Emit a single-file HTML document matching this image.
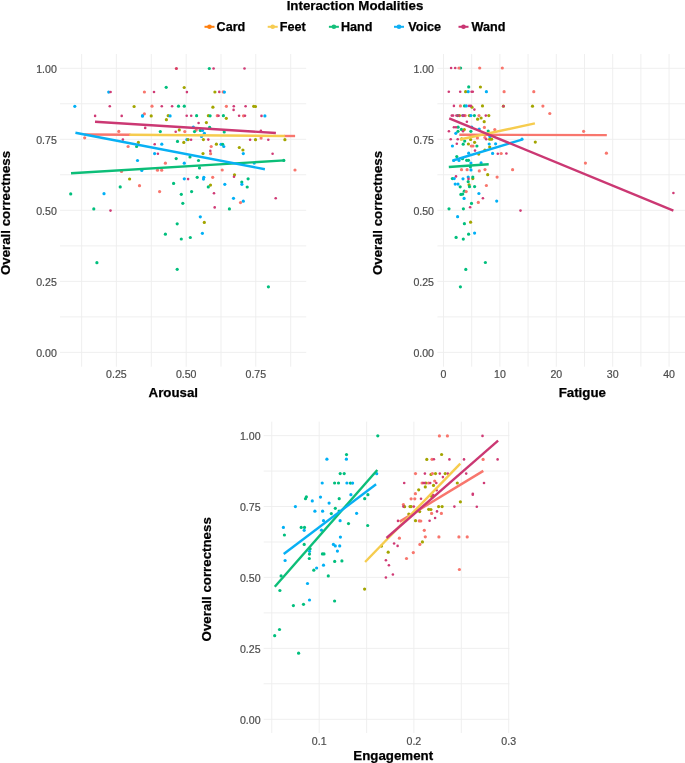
<!DOCTYPE html>
<html lang="en"><head><meta charset="utf-8"><title>Interaction Modalities</title>
<style>html,body{margin:0;padding:0;background:#fff}body{width:685px;height:763px;overflow:hidden}svg{display:block}</style>
</head><body>
<svg width="685" height="763" viewBox="0 0 685 763" font-family="'Liberation Sans', Arial, Helvetica, sans-serif">
<rect width="685" height="763" fill="#fff"/>
<text x="355" y="9.6" font-size="13.3" font-weight="bold" text-anchor="middle" fill="#000" stroke="#000" stroke-width="0.25">Interaction Modalities</text>
<line x1="204.5" x2="214.5" y1="26.8" y2="26.8" stroke="#FF7F0E" stroke-width="2.0"/>
<circle cx="209.5" cy="26.8" r="2.3" fill="#FF7F0E"/>
<text x="216.6" y="31.2" font-size="12.6" font-weight="bold" fill="#000" stroke="#000" stroke-width="0.25">Card</text>
<line x1="267.7" x2="277.7" y1="26.8" y2="26.8" stroke="#F6CC52" stroke-width="2.0"/>
<circle cx="272.7" cy="26.8" r="2.3" fill="#F6CC52"/>
<text x="279.7" y="31.2" font-size="12.6" font-weight="bold" fill="#000" stroke="#000" stroke-width="0.25">Feet</text>
<line x1="328.9" x2="338.9" y1="26.8" y2="26.8" stroke="#14BF7A" stroke-width="2.0"/>
<circle cx="333.9" cy="26.8" r="2.3" fill="#14BF7A"/>
<text x="340.9" y="31.2" font-size="12.6" font-weight="bold" fill="#000" stroke="#000" stroke-width="0.25">Hand</text>
<line x1="394" x2="404" y1="26.8" y2="26.8" stroke="#10B0F4" stroke-width="2.0"/>
<circle cx="399" cy="26.8" r="2.3" fill="#10B0F4"/>
<text x="408.3" y="31.2" font-size="12.6" font-weight="bold" fill="#000" stroke="#000" stroke-width="0.25">Voice</text>
<line x1="458.5" x2="468.5" y1="26.8" y2="26.8" stroke="#C93572" stroke-width="2.0"/>
<circle cx="463.5" cy="26.8" r="2.3" fill="#C93572"/>
<text x="471.6" y="31.2" font-size="12.6" font-weight="bold" fill="#000" stroke="#000" stroke-width="0.25">Wand</text>
<line x1="60.0" x2="306.2" y1="103.8" y2="103.8" stroke="#ededed" stroke-width="0.9"/>
<line x1="60.0" x2="306.2" y1="174.8" y2="174.8" stroke="#ededed" stroke-width="0.9"/>
<line x1="60.0" x2="306.2" y1="245.9" y2="245.9" stroke="#ededed" stroke-width="0.9"/>
<line x1="60.0" x2="306.2" y1="316.9" y2="316.9" stroke="#ededed" stroke-width="0.9"/>
<line y1="54.0" y2="366.7" x1="81.6" x2="81.6" stroke="#ededed" stroke-width="0.9"/>
<line y1="54.0" y2="366.7" x1="151.3" x2="151.3" stroke="#ededed" stroke-width="0.9"/>
<line y1="54.0" y2="366.7" x1="221.0" x2="221.0" stroke="#ededed" stroke-width="0.9"/>
<line y1="54.0" y2="366.7" x1="290.7" x2="290.7" stroke="#ededed" stroke-width="0.9"/>
<line x1="60.0" x2="306.2" y1="68.3" y2="68.3" stroke="#ededed" stroke-width="0.9"/>
<line x1="60.0" x2="306.2" y1="139.3" y2="139.3" stroke="#ededed" stroke-width="0.9"/>
<line x1="60.0" x2="306.2" y1="210.3" y2="210.3" stroke="#ededed" stroke-width="0.9"/>
<line x1="60.0" x2="306.2" y1="281.4" y2="281.4" stroke="#ededed" stroke-width="0.9"/>
<line x1="60.0" x2="306.2" y1="352.4" y2="352.4" stroke="#ededed" stroke-width="0.9"/>
<line y1="54.0" y2="366.7" x1="116.4" x2="116.4" stroke="#ededed" stroke-width="0.9"/>
<line y1="54.0" y2="366.7" x1="186.2" x2="186.2" stroke="#ededed" stroke-width="0.9"/>
<line y1="54.0" y2="366.7" x1="255.8" x2="255.8" stroke="#ededed" stroke-width="0.9"/>
<text x="56.8" y="72.5" font-size="10.6" text-anchor="end" fill="#4d4d4d" stroke="#4d4d4d" stroke-width="0.2">1.00</text>
<text x="56.8" y="143.5" font-size="10.6" text-anchor="end" fill="#4d4d4d" stroke="#4d4d4d" stroke-width="0.2">0.75</text>
<text x="56.8" y="214.5" font-size="10.6" text-anchor="end" fill="#4d4d4d" stroke="#4d4d4d" stroke-width="0.2">0.50</text>
<text x="56.8" y="285.6" font-size="10.6" text-anchor="end" fill="#4d4d4d" stroke="#4d4d4d" stroke-width="0.2">0.25</text>
<text x="56.8" y="356.6" font-size="10.6" text-anchor="end" fill="#4d4d4d" stroke="#4d4d4d" stroke-width="0.2">0.00</text>
<text x="116.4" y="377.9" font-size="10.6" text-anchor="middle" fill="#4d4d4d" stroke="#4d4d4d" stroke-width="0.2">0.25</text>
<text x="186.2" y="377.9" font-size="10.6" text-anchor="middle" fill="#4d4d4d" stroke="#4d4d4d" stroke-width="0.2">0.50</text>
<text x="255.8" y="377.9" font-size="10.6" text-anchor="middle" fill="#4d4d4d" stroke="#4d4d4d" stroke-width="0.2">0.75</text>
<text transform="translate(10.0,213.0) rotate(-90)" font-size="13.3" font-weight="bold" text-anchor="middle" fill="#000" stroke="#000" stroke-width="0.25">Overall correctness</text>
<text x="173.3" y="397" font-size="13.3" font-weight="bold" text-anchor="middle" fill="#000" stroke="#000" stroke-width="0.25">Arousal</text>
<circle cx="74.8" cy="106.3" r="1.6" fill="#00B0F6"/>
<circle cx="108.7" cy="92.1" r="1.6" fill="#00B0F6"/>
<circle cx="134.1" cy="106.5" r="1.6" fill="#A3A500"/>
<circle cx="142.5" cy="115.9" r="1.6" fill="#00B0F6"/>
<circle cx="118.8" cy="131.4" r="1.6" fill="#F8766D"/>
<circle cx="84.7" cy="137.8" r="1.6" fill="#F8766D"/>
<circle cx="138.4" cy="142.4" r="1.6" fill="#A3A500"/>
<circle cx="128.1" cy="146.5" r="1.6" fill="#F8766D"/>
<circle cx="136.6" cy="146.5" r="1.6" fill="#00BF7D"/>
<circle cx="176.4" cy="68.5" r="1.6" fill="#DA3C62"/>
<circle cx="209.3" cy="68.5" r="1.6" fill="#00BF7D"/>
<circle cx="166.2" cy="87.3" r="1.6" fill="#00BF7D"/>
<circle cx="184.2" cy="87.5" r="1.6" fill="#A3A500"/>
<circle cx="144.4" cy="92.0" r="1.6" fill="#F8766D"/>
<circle cx="214.9" cy="92.0" r="1.6" fill="#A3A500"/>
<circle cx="152.0" cy="106.2" r="1.6" fill="#F8766D"/>
<circle cx="178.5" cy="106.2" r="1.6" fill="#00BF7D"/>
<circle cx="184.3" cy="106.2" r="1.6" fill="#00BF7D"/>
<circle cx="212.9" cy="107.2" r="1.6" fill="#A3A500"/>
<circle cx="144.4" cy="113.8" r="1.6" fill="#F8766D"/>
<circle cx="142.5" cy="115.9" r="1.6" fill="#00B0F6"/>
<circle cx="151.2" cy="115.9" r="1.6" fill="#A3A500"/>
<circle cx="168.2" cy="115.7" r="1.6" fill="#A3A500"/>
<circle cx="170.1" cy="115.9" r="1.6" fill="#00B0F6"/>
<circle cx="196.6" cy="115.7" r="1.6" fill="#00BF7D"/>
<circle cx="208.4" cy="115.7" r="1.6" fill="#A3A500"/>
<circle cx="210.1" cy="115.8" r="1.6" fill="#00BF7D"/>
<circle cx="217.3" cy="115.7" r="1.6" fill="#F8766D"/>
<circle cx="166.4" cy="119.7" r="1.6" fill="#A3A500"/>
<circle cx="206.4" cy="122.6" r="1.6" fill="#A3A500"/>
<circle cx="209.6" cy="127.3" r="1.6" fill="#00BF7D"/>
<circle cx="193.3" cy="127.0" r="1.6" fill="#00B0F6"/>
<circle cx="160.3" cy="131.6" r="1.6" fill="#00BF7D"/>
<circle cx="179.3" cy="129.9" r="1.6" fill="#A3A500"/>
<circle cx="184.8" cy="131.6" r="1.6" fill="#F8766D"/>
<circle cx="196.2" cy="130.1" r="1.6" fill="#F8766D"/>
<circle cx="194.5" cy="131.6" r="1.6" fill="#00BF7D"/>
<circle cx="200.3" cy="130.4" r="1.6" fill="#00BF7D"/>
<circle cx="202.5" cy="130.4" r="1.6" fill="#00B0F6"/>
<circle cx="204.4" cy="133.3" r="1.6" fill="#00B0F6"/>
<circle cx="201.5" cy="136.4" r="1.6" fill="#00B0F6"/>
<circle cx="186.9" cy="139.6" r="1.6" fill="#00B0F6"/>
<circle cx="188.1" cy="139.6" r="1.6" fill="#A3A500"/>
<circle cx="203.4" cy="139.6" r="1.6" fill="#A3A500"/>
<circle cx="177.5" cy="141.4" r="1.6" fill="#00BF7D"/>
<circle cx="183.8" cy="142.4" r="1.6" fill="#A3A500"/>
<circle cx="161.8" cy="144.2" r="1.6" fill="#00B0F6"/>
<circle cx="216.4" cy="144.2" r="1.6" fill="#A3A500"/>
<circle cx="221.0" cy="144.3" r="1.6" fill="#00B0F6"/>
<circle cx="222.7" cy="144.3" r="1.6" fill="#00BF7D"/>
<circle cx="211.2" cy="146.5" r="1.6" fill="#F8766D"/>
<circle cx="223.2" cy="91.9" r="1.6" fill="#F8766D"/>
<circle cx="224.4" cy="92.1" r="1.6" fill="#00B0F6"/>
<circle cx="226.4" cy="106.3" r="1.6" fill="#F8766D"/>
<circle cx="253.7" cy="106.3" r="1.6" fill="#A3A500"/>
<circle cx="255.5" cy="106.5" r="1.6" fill="#A3A500"/>
<circle cx="223.4" cy="115.7" r="1.6" fill="#00BF7D"/>
<circle cx="226.3" cy="118.3" r="1.6" fill="#A3A500"/>
<circle cx="243.5" cy="115.8" r="1.6" fill="#F8766D"/>
<circle cx="264.9" cy="115.9" r="1.6" fill="#00B0F6"/>
<circle cx="224.2" cy="132.0" r="1.6" fill="#00BF7D"/>
<circle cx="255.5" cy="139.7" r="1.6" fill="#A3A500"/>
<circle cx="261.1" cy="138.1" r="1.6" fill="#F8766D"/>
<circle cx="284.9" cy="139.7" r="1.6" fill="#A3A500"/>
<circle cx="223.8" cy="146.5" r="1.6" fill="#00B0F6"/>
<circle cx="239.3" cy="147.5" r="1.6" fill="#A3A500"/>
<circle cx="242.9" cy="150.0" r="1.6" fill="#A3A500"/>
<circle cx="137.5" cy="160.5" r="1.6" fill="#00B0F6"/>
<circle cx="141.8" cy="170.4" r="1.6" fill="#00B0F6"/>
<circle cx="121.5" cy="171.4" r="1.6" fill="#F8766D"/>
<circle cx="129.6" cy="179.0" r="1.6" fill="#A3A500"/>
<circle cx="120.2" cy="186.9" r="1.6" fill="#00BF7D"/>
<circle cx="139.5" cy="185.7" r="1.6" fill="#F8766D"/>
<circle cx="70.7" cy="193.9" r="1.6" fill="#00BF7D"/>
<circle cx="104.0" cy="193.7" r="1.6" fill="#00B0F6"/>
<circle cx="93.8" cy="208.9" r="1.6" fill="#00BF7D"/>
<circle cx="154.6" cy="153.6" r="1.6" fill="#00B0F6"/>
<circle cx="210.6" cy="153.7" r="1.6" fill="#F8766D"/>
<circle cx="203.0" cy="153.6" r="1.6" fill="#A3A500"/>
<circle cx="176.2" cy="158.6" r="1.6" fill="#00BF7D"/>
<circle cx="190.0" cy="157.0" r="1.6" fill="#00BF7D"/>
<circle cx="198.5" cy="160.5" r="1.6" fill="#00BF7D"/>
<circle cx="165.4" cy="163.2" r="1.6" fill="#F8766D"/>
<circle cx="184.3" cy="163.2" r="1.6" fill="#00B0F6"/>
<circle cx="199.5" cy="167.9" r="1.6" fill="#00BF7D"/>
<circle cx="157.5" cy="170.2" r="1.6" fill="#F8766D"/>
<circle cx="161.7" cy="170.2" r="1.6" fill="#F8766D"/>
<circle cx="184.3" cy="178.8" r="1.6" fill="#00B0F6"/>
<circle cx="197.2" cy="177.3" r="1.6" fill="#00BF7D"/>
<circle cx="203.8" cy="177.3" r="1.6" fill="#00B0F6"/>
<circle cx="203.5" cy="179.1" r="1.6" fill="#00B0F6"/>
<circle cx="212.7" cy="177.3" r="1.6" fill="#F8766D"/>
<circle cx="173.6" cy="183.4" r="1.6" fill="#00BF7D"/>
<circle cx="210.5" cy="185.1" r="1.6" fill="#A3A500"/>
<circle cx="208.3" cy="186.9" r="1.6" fill="#00BF7D"/>
<circle cx="159.6" cy="191.6" r="1.6" fill="#F8766D"/>
<circle cx="191.6" cy="191.6" r="1.6" fill="#00BF7D"/>
<circle cx="181.3" cy="194.3" r="1.6" fill="#00BF7D"/>
<circle cx="182.8" cy="203.3" r="1.6" fill="#00BF7D"/>
<circle cx="200.3" cy="216.8" r="1.6" fill="#00B0F6"/>
<circle cx="204.3" cy="222.4" r="1.6" fill="#A3A500"/>
<circle cx="177.2" cy="223.8" r="1.6" fill="#00BF7D"/>
<circle cx="165.4" cy="234.2" r="1.6" fill="#00BF7D"/>
<circle cx="202.4" cy="233.3" r="1.6" fill="#00B0F6"/>
<circle cx="190.3" cy="237.5" r="1.6" fill="#00BF7D"/>
<circle cx="181.3" cy="239.0" r="1.6" fill="#00BF7D"/>
<circle cx="243.3" cy="153.6" r="1.6" fill="#00B0F6"/>
<circle cx="283.8" cy="160.4" r="1.6" fill="#00BF7D"/>
<circle cx="254.2" cy="163.1" r="1.6" fill="#00B0F6"/>
<circle cx="222.2" cy="170.0" r="1.6" fill="#F8766D"/>
<circle cx="295.0" cy="170.0" r="1.6" fill="#F8766D"/>
<circle cx="234.5" cy="174.8" r="1.6" fill="#A3A500"/>
<circle cx="248.1" cy="178.8" r="1.6" fill="#00BF7D"/>
<circle cx="241.8" cy="182.0" r="1.6" fill="#00BF7D"/>
<circle cx="241.9" cy="184.3" r="1.6" fill="#00B0F6"/>
<circle cx="224.8" cy="184.3" r="1.6" fill="#00B0F6"/>
<circle cx="247.2" cy="187.0" r="1.6" fill="#00BF7D"/>
<circle cx="233.5" cy="198.3" r="1.6" fill="#00B0F6"/>
<circle cx="243.3" cy="201.2" r="1.6" fill="#00B0F6"/>
<circle cx="240.5" cy="202.6" r="1.6" fill="#F8766D"/>
<circle cx="229.4" cy="208.9" r="1.6" fill="#00BF7D"/>
<circle cx="177.2" cy="269.3" r="1.6" fill="#00BF7D"/>
<circle cx="96.9" cy="262.7" r="1.6" fill="#00BF7D"/>
<circle cx="268.4" cy="286.8" r="1.6" fill="#00BF7D"/>
<circle cx="110.6" cy="92.0" r="1.3" fill="#D03A75"/>
<circle cx="109.8" cy="106.2" r="1.3" fill="#D03A75"/>
<circle cx="95.1" cy="115.9" r="1.3" fill="#D03A75"/>
<circle cx="121.7" cy="115.9" r="1.3" fill="#D03A75"/>
<circle cx="122.9" cy="139.6" r="1.3" fill="#D03A75"/>
<circle cx="213.6" cy="68.5" r="1.3" fill="#D03A75"/>
<circle cx="154.0" cy="92.0" r="1.3" fill="#D03A75"/>
<circle cx="186.9" cy="92.1" r="1.3" fill="#D03A75"/>
<circle cx="219.3" cy="91.9" r="1.3" fill="#D03A75"/>
<circle cx="161.8" cy="106.2" r="1.3" fill="#D03A75"/>
<circle cx="172.1" cy="106.2" r="1.3" fill="#D03A75"/>
<circle cx="186.7" cy="115.8" r="1.3" fill="#D03A75"/>
<circle cx="191.2" cy="115.8" r="1.3" fill="#D03A75"/>
<circle cx="218.6" cy="115.8" r="1.3" fill="#D03A75"/>
<circle cx="198.6" cy="123.0" r="1.3" fill="#D03A75"/>
<circle cx="145.2" cy="127.9" r="1.3" fill="#D03A75"/>
<circle cx="175.7" cy="131.8" r="1.3" fill="#D03A75"/>
<circle cx="191.1" cy="139.7" r="1.3" fill="#D03A75"/>
<circle cx="208.3" cy="139.6" r="1.3" fill="#D03A75"/>
<circle cx="154.7" cy="144.2" r="1.3" fill="#D03A75"/>
<circle cx="244.5" cy="68.5" r="1.3" fill="#D03A75"/>
<circle cx="233.8" cy="106.3" r="1.3" fill="#D03A75"/>
<circle cx="245.6" cy="106.3" r="1.3" fill="#D03A75"/>
<circle cx="233.6" cy="109.9" r="1.3" fill="#D03A75"/>
<circle cx="239.1" cy="115.8" r="1.3" fill="#D03A75"/>
<circle cx="245.0" cy="115.8" r="1.3" fill="#D03A75"/>
<circle cx="261.5" cy="115.9" r="1.3" fill="#D03A75"/>
<circle cx="260.9" cy="130.8" r="1.3" fill="#D03A75"/>
<circle cx="250.1" cy="139.7" r="1.3" fill="#D03A75"/>
<circle cx="268.3" cy="139.7" r="1.3" fill="#D03A75"/>
<circle cx="110.5" cy="210.6" r="1.3" fill="#D03A75"/>
<circle cx="157.9" cy="153.7" r="1.3" fill="#D03A75"/>
<circle cx="210.3" cy="150.9" r="1.3" fill="#D03A75"/>
<circle cx="188.1" cy="179.1" r="1.3" fill="#D03A75"/>
<circle cx="214.0" cy="193.3" r="1.3" fill="#D03A75"/>
<circle cx="214.7" cy="207.4" r="1.3" fill="#D03A75"/>
<circle cx="272.6" cy="153.8" r="1.3" fill="#D03A75"/>
<circle cx="234.0" cy="176.8" r="1.3" fill="#D03A75"/>
<circle cx="275.7" cy="198.3" r="1.3" fill="#D03A75"/>
<line x1="84.2" y1="134.5" x2="130.5" y2="134.8" stroke="#F8766D" stroke-width="2.4"/>
<line x1="284.0" y1="136.0" x2="295.1" y2="136.0" stroke="#F8766D" stroke-width="2.4"/>
<line x1="129.4" y1="134.7" x2="284.9" y2="136" stroke="#F6CC4E" stroke-width="2.4"/>
<line x1="71.0" y1="173.2" x2="284.4" y2="160.4" stroke="#0CBE78" stroke-width="2.4"/>
<line x1="75.4" y1="132.7" x2="264.9" y2="169.2" stroke="#08B0F4" stroke-width="2.4"/>
<line x1="95.0" y1="121.7" x2="275.9" y2="133.0" stroke="#CB3873" stroke-width="2.4"/>
<line x1="437.4" x2="685" y1="103.8" y2="103.8" stroke="#ededed" stroke-width="0.9"/>
<line x1="437.4" x2="685" y1="174.8" y2="174.8" stroke="#ededed" stroke-width="0.9"/>
<line x1="437.4" x2="685" y1="245.9" y2="245.9" stroke="#ededed" stroke-width="0.9"/>
<line x1="437.4" x2="685" y1="316.9" y2="316.9" stroke="#ededed" stroke-width="0.9"/>
<line y1="54.0" y2="366.7" x1="471.7" x2="471.7" stroke="#ededed" stroke-width="0.9"/>
<line y1="54.0" y2="366.7" x1="528.1" x2="528.1" stroke="#ededed" stroke-width="0.9"/>
<line y1="54.0" y2="366.7" x1="584.5" x2="584.5" stroke="#ededed" stroke-width="0.9"/>
<line y1="54.0" y2="366.7" x1="640.9" x2="640.9" stroke="#ededed" stroke-width="0.9"/>
<line x1="437.4" x2="685" y1="68.3" y2="68.3" stroke="#ededed" stroke-width="0.9"/>
<line x1="437.4" x2="685" y1="139.3" y2="139.3" stroke="#ededed" stroke-width="0.9"/>
<line x1="437.4" x2="685" y1="210.3" y2="210.3" stroke="#ededed" stroke-width="0.9"/>
<line x1="437.4" x2="685" y1="281.4" y2="281.4" stroke="#ededed" stroke-width="0.9"/>
<line x1="437.4" x2="685" y1="352.4" y2="352.4" stroke="#ededed" stroke-width="0.9"/>
<line y1="54.0" y2="366.7" x1="443.5" x2="443.5" stroke="#ededed" stroke-width="0.9"/>
<line y1="54.0" y2="366.7" x1="499.9" x2="499.9" stroke="#ededed" stroke-width="0.9"/>
<line y1="54.0" y2="366.7" x1="556.3" x2="556.3" stroke="#ededed" stroke-width="0.9"/>
<line y1="54.0" y2="366.7" x1="612.7" x2="612.7" stroke="#ededed" stroke-width="0.9"/>
<line y1="54.0" y2="366.7" x1="669.1" x2="669.1" stroke="#ededed" stroke-width="0.9"/>
<text x="434" y="72.5" font-size="10.6" text-anchor="end" fill="#4d4d4d" stroke="#4d4d4d" stroke-width="0.2">1.00</text>
<text x="434" y="143.5" font-size="10.6" text-anchor="end" fill="#4d4d4d" stroke="#4d4d4d" stroke-width="0.2">0.75</text>
<text x="434" y="214.5" font-size="10.6" text-anchor="end" fill="#4d4d4d" stroke="#4d4d4d" stroke-width="0.2">0.50</text>
<text x="434" y="285.6" font-size="10.6" text-anchor="end" fill="#4d4d4d" stroke="#4d4d4d" stroke-width="0.2">0.25</text>
<text x="434" y="356.6" font-size="10.6" text-anchor="end" fill="#4d4d4d" stroke="#4d4d4d" stroke-width="0.2">0.00</text>
<text x="443.5" y="377.9" font-size="10.6" text-anchor="middle" fill="#4d4d4d" stroke="#4d4d4d" stroke-width="0.2">0</text>
<text x="499.9" y="377.9" font-size="10.6" text-anchor="middle" fill="#4d4d4d" stroke="#4d4d4d" stroke-width="0.2">10</text>
<text x="556.3" y="377.9" font-size="10.6" text-anchor="middle" fill="#4d4d4d" stroke="#4d4d4d" stroke-width="0.2">20</text>
<text x="612.7" y="377.9" font-size="10.6" text-anchor="middle" fill="#4d4d4d" stroke="#4d4d4d" stroke-width="0.2">30</text>
<text x="669.1" y="377.9" font-size="10.6" text-anchor="middle" fill="#4d4d4d" stroke="#4d4d4d" stroke-width="0.2">40</text>
<text transform="translate(382.1,213.0) rotate(-90)" font-size="13.3" font-weight="bold" text-anchor="middle" fill="#000" stroke="#000" stroke-width="0.25">Overall correctness</text>
<text x="582.3" y="397" font-size="13.3" font-weight="bold" text-anchor="middle" fill="#000" stroke="#000" stroke-width="0.25">Fatigue</text>
<circle cx="460.6" cy="68.0" r="1.6" fill="#00BF7D"/>
<circle cx="459.0" cy="68.0" r="1.6" fill="#F8766D"/>
<circle cx="479.7" cy="68.0" r="1.6" fill="#F8766D"/>
<circle cx="468.7" cy="86.9" r="1.6" fill="#00BF7D"/>
<circle cx="480.4" cy="87.0" r="1.6" fill="#A3A500"/>
<circle cx="465.6" cy="91.7" r="1.6" fill="#A3A500"/>
<circle cx="468.2" cy="91.7" r="1.6" fill="#00B0F6"/>
<circle cx="486.4" cy="91.7" r="1.6" fill="#00B0F6"/>
<circle cx="460.4" cy="105.9" r="1.6" fill="#F8766D"/>
<circle cx="464.5" cy="105.9" r="1.6" fill="#00BF7D"/>
<circle cx="466.3" cy="105.9" r="1.6" fill="#00B0F6"/>
<circle cx="472.0" cy="107.2" r="1.6" fill="#A3A500"/>
<circle cx="482.5" cy="105.9" r="1.6" fill="#A3A500"/>
<circle cx="457.7" cy="115.6" r="1.6" fill="#00BF7D"/>
<circle cx="459.5" cy="115.6" r="1.6" fill="#A3A500"/>
<circle cx="463.0" cy="115.6" r="1.6" fill="#00B0F6"/>
<circle cx="465.1" cy="115.6" r="1.6" fill="#F8766D"/>
<circle cx="469.4" cy="115.6" r="1.6" fill="#A3A500"/>
<circle cx="470.9" cy="115.6" r="1.6" fill="#00B0F6"/>
<circle cx="474.4" cy="115.6" r="1.6" fill="#00BF7D"/>
<circle cx="479.0" cy="115.6" r="1.6" fill="#F8766D"/>
<circle cx="488.8" cy="115.6" r="1.6" fill="#A3A500"/>
<circle cx="481.1" cy="118.0" r="1.6" fill="#A3A500"/>
<circle cx="477.6" cy="119.2" r="1.6" fill="#A3A500"/>
<circle cx="484.2" cy="121.7" r="1.6" fill="#A3A500"/>
<circle cx="484.4" cy="127.4" r="1.6" fill="#F8766D"/>
<circle cx="458.1" cy="127.2" r="1.6" fill="#00BF7D"/>
<circle cx="461.4" cy="129.4" r="1.6" fill="#00BF7D"/>
<circle cx="464.3" cy="129.6" r="1.6" fill="#A3A500"/>
<circle cx="458.0" cy="131.3" r="1.6" fill="#00BF7D"/>
<circle cx="470.9" cy="131.3" r="1.6" fill="#00BF7D"/>
<circle cx="455.8" cy="133.3" r="1.6" fill="#00B0F6"/>
<circle cx="471.7" cy="127.0" r="1.6" fill="#00B0F6"/>
<circle cx="479.2" cy="129.1" r="1.6" fill="#00B0F6"/>
<circle cx="488.2" cy="131.1" r="1.6" fill="#00BF7D"/>
<circle cx="494.8" cy="129.6" r="1.6" fill="#F8766D"/>
<circle cx="477.4" cy="137.9" r="1.6" fill="#F8766D"/>
<circle cx="484.9" cy="137.5" r="1.6" fill="#F8766D"/>
<circle cx="489.7" cy="139.2" r="1.6" fill="#A3A500"/>
<circle cx="491.6" cy="139.2" r="1.6" fill="#A3A500"/>
<circle cx="489.9" cy="136.6" r="1.6" fill="#00B0F6"/>
<circle cx="461.6" cy="138.9" r="1.6" fill="#A3A500"/>
<circle cx="470.6" cy="139.5" r="1.6" fill="#A3A500"/>
<circle cx="464.7" cy="141.1" r="1.6" fill="#00BF7D"/>
<circle cx="474.6" cy="142.3" r="1.6" fill="#A3A500"/>
<circle cx="463.2" cy="144.2" r="1.6" fill="#00BF7D"/>
<circle cx="468.4" cy="144.0" r="1.6" fill="#A3A500"/>
<circle cx="452.4" cy="146.0" r="1.6" fill="#00B0F6"/>
<circle cx="471.3" cy="146.0" r="1.6" fill="#F8766D"/>
<circle cx="473.0" cy="146.0" r="1.6" fill="#F8766D"/>
<circle cx="476.9" cy="146.0" r="1.6" fill="#00BF7D"/>
<circle cx="489.2" cy="144.0" r="1.6" fill="#00B0F6"/>
<circle cx="495.6" cy="143.8" r="1.6" fill="#00B0F6"/>
<circle cx="489.7" cy="147.1" r="1.6" fill="#A3A500"/>
<circle cx="484.9" cy="150.0" r="1.6" fill="#A3A500"/>
<circle cx="468.7" cy="153.2" r="1.6" fill="#00B0F6"/>
<circle cx="492.6" cy="153.4" r="1.6" fill="#00B0F6"/>
<circle cx="478.7" cy="154.1" r="1.6" fill="#A3A500"/>
<circle cx="456.8" cy="156.6" r="1.6" fill="#00BF7D"/>
<circle cx="462.5" cy="158.7" r="1.6" fill="#00BF7D"/>
<circle cx="459.0" cy="160.5" r="1.6" fill="#00B0F6"/>
<circle cx="466.7" cy="160.3" r="1.6" fill="#00BF7D"/>
<circle cx="468.5" cy="160.3" r="1.6" fill="#00BF7D"/>
<circle cx="453.6" cy="160.5" r="1.6" fill="#00B0F6"/>
<circle cx="470.9" cy="163.1" r="1.6" fill="#00B0F6"/>
<circle cx="481.1" cy="162.9" r="1.6" fill="#00B0F6"/>
<circle cx="470.4" cy="166.8" r="1.6" fill="#00BF7D"/>
<circle cx="461.5" cy="169.7" r="1.6" fill="#F8766D"/>
<circle cx="467.1" cy="169.7" r="1.6" fill="#F8766D"/>
<circle cx="471.0" cy="169.9" r="1.6" fill="#00B0F6"/>
<circle cx="479.3" cy="170.9" r="1.6" fill="#F8766D"/>
<circle cx="485.0" cy="169.6" r="1.6" fill="#F8766D"/>
<circle cx="487.7" cy="174.7" r="1.6" fill="#A3A500"/>
<circle cx="452.4" cy="178.6" r="1.6" fill="#00BF7D"/>
<circle cx="454.2" cy="178.6" r="1.6" fill="#00B0F6"/>
<circle cx="463.0" cy="178.8" r="1.6" fill="#00B0F6"/>
<circle cx="468.2" cy="177.1" r="1.6" fill="#00B0F6"/>
<circle cx="472.8" cy="178.6" r="1.6" fill="#A3A500"/>
<circle cx="472.8" cy="177.1" r="1.6" fill="#00BF7D"/>
<circle cx="497.1" cy="177.1" r="1.6" fill="#F8766D"/>
<circle cx="468.2" cy="181.7" r="1.6" fill="#00BF7D"/>
<circle cx="469.1" cy="184.8" r="1.6" fill="#A3A500"/>
<circle cx="469.5" cy="186.7" r="1.6" fill="#00BF7D"/>
<circle cx="474.6" cy="186.6" r="1.6" fill="#00BF7D"/>
<circle cx="460.2" cy="186.8" r="1.6" fill="#00BF7D"/>
<circle cx="455.2" cy="184.1" r="1.6" fill="#00B0F6"/>
<circle cx="458.0" cy="184.1" r="1.6" fill="#00B0F6"/>
<circle cx="486.4" cy="185.5" r="1.6" fill="#F8766D"/>
<circle cx="464.3" cy="191.2" r="1.6" fill="#00BF7D"/>
<circle cx="466.2" cy="191.6" r="1.6" fill="#F8766D"/>
<circle cx="460.9" cy="194.4" r="1.6" fill="#00BF7D"/>
<circle cx="462.7" cy="194.1" r="1.6" fill="#00BF7D"/>
<circle cx="478.9" cy="193.5" r="1.6" fill="#00B0F6"/>
<circle cx="464.1" cy="198.4" r="1.6" fill="#00B0F6"/>
<circle cx="496.7" cy="201.1" r="1.6" fill="#00B0F6"/>
<circle cx="478.3" cy="202.4" r="1.6" fill="#F8766D"/>
<circle cx="471.5" cy="203.4" r="1.6" fill="#00BF7D"/>
<circle cx="449.0" cy="208.8" r="1.6" fill="#00BF7D"/>
<circle cx="463.4" cy="208.8" r="1.6" fill="#00BF7D"/>
<circle cx="457.6" cy="216.7" r="1.6" fill="#00B0F6"/>
<circle cx="470.6" cy="222.2" r="1.6" fill="#A3A500"/>
<circle cx="464.4" cy="223.7" r="1.6" fill="#00BF7D"/>
<circle cx="474.6" cy="233.1" r="1.6" fill="#00B0F6"/>
<circle cx="468.6" cy="234.2" r="1.6" fill="#00BF7D"/>
<circle cx="456.1" cy="237.4" r="1.6" fill="#00BF7D"/>
<circle cx="463.3" cy="239.1" r="1.6" fill="#00BF7D"/>
<circle cx="485.4" cy="262.5" r="1.6" fill="#00BF7D"/>
<circle cx="465.8" cy="269.4" r="1.6" fill="#00BF7D"/>
<circle cx="460.4" cy="286.8" r="1.6" fill="#00BF7D"/>
<circle cx="502.3" cy="68.0" r="1.6" fill="#F8766D"/>
<circle cx="504.1" cy="91.7" r="1.6" fill="#F8766D"/>
<circle cx="533.8" cy="91.7" r="1.6" fill="#F8766D"/>
<circle cx="503.4" cy="106.2" r="1.6" fill="#A3A500"/>
<circle cx="532.5" cy="106.2" r="1.6" fill="#A3A500"/>
<circle cx="542.9" cy="106.1" r="1.6" fill="#F8766D"/>
<circle cx="549.8" cy="113.5" r="1.6" fill="#F8766D"/>
<circle cx="522.0" cy="139.2" r="1.6" fill="#00B0F6"/>
<circle cx="535.3" cy="142.1" r="1.6" fill="#A3A500"/>
<circle cx="501.2" cy="153.5" r="1.6" fill="#F8766D"/>
<circle cx="512.6" cy="169.7" r="1.6" fill="#F8766D"/>
<circle cx="583.6" cy="131.3" r="1.6" fill="#F8766D"/>
<circle cx="606.4" cy="153.2" r="1.6" fill="#F8766D"/>
<circle cx="585.4" cy="163.1" r="1.6" fill="#F8766D"/>
<circle cx="451.1" cy="68.0" r="1.3" fill="#D03A75"/>
<circle cx="455.2" cy="68.0" r="1.3" fill="#D03A75"/>
<circle cx="448.8" cy="91.7" r="1.3" fill="#D03A75"/>
<circle cx="460.2" cy="91.7" r="1.3" fill="#D03A75"/>
<circle cx="471.6" cy="91.7" r="1.3" fill="#D03A75"/>
<circle cx="472.8" cy="91.7" r="1.3" fill="#D03A75"/>
<circle cx="453.9" cy="105.9" r="1.3" fill="#D03A75"/>
<circle cx="469.1" cy="105.9" r="1.3" fill="#D03A75"/>
<circle cx="470.9" cy="105.9" r="1.3" fill="#D03A75"/>
<circle cx="474.4" cy="109.6" r="1.3" fill="#D03A75"/>
<circle cx="451.8" cy="115.6" r="1.3" fill="#D03A75"/>
<circle cx="453.1" cy="115.6" r="1.3" fill="#D03A75"/>
<circle cx="456.4" cy="115.6" r="1.3" fill="#D03A75"/>
<circle cx="458.6" cy="115.6" r="1.3" fill="#D03A75"/>
<circle cx="462.5" cy="115.6" r="1.3" fill="#D03A75"/>
<circle cx="464.1" cy="115.6" r="1.3" fill="#D03A75"/>
<circle cx="485.8" cy="115.6" r="1.3" fill="#D03A75"/>
<circle cx="466.9" cy="121.7" r="1.3" fill="#D03A75"/>
<circle cx="453.9" cy="127.2" r="1.3" fill="#D03A75"/>
<circle cx="456.0" cy="127.2" r="1.3" fill="#D03A75"/>
<circle cx="463.0" cy="131.3" r="1.3" fill="#D03A75"/>
<circle cx="448.9" cy="131.3" r="1.3" fill="#D03A75"/>
<circle cx="486.2" cy="139.2" r="1.3" fill="#D03A75"/>
<circle cx="450.7" cy="139.2" r="1.3" fill="#D03A75"/>
<circle cx="457.7" cy="139.2" r="1.3" fill="#D03A75"/>
<circle cx="456.8" cy="143.8" r="1.3" fill="#D03A75"/>
<circle cx="475.0" cy="150.6" r="1.3" fill="#D03A75"/>
<circle cx="497.8" cy="153.7" r="1.3" fill="#D03A75"/>
<circle cx="456.0" cy="176.4" r="1.3" fill="#D03A75"/>
<circle cx="468.5" cy="178.9" r="1.3" fill="#D03A75"/>
<circle cx="482.9" cy="198.2" r="1.3" fill="#D03A75"/>
<circle cx="470.1" cy="207.3" r="1.3" fill="#D03A75"/>
<circle cx="503.4" cy="106.2" r="1.3" fill="#D03A75"/>
<circle cx="506.4" cy="153.5" r="1.3" fill="#D03A75"/>
<circle cx="520.5" cy="210.6" r="1.3" fill="#D03A75"/>
<circle cx="673.4" cy="193.0" r="1.3" fill="#D03A75"/>
<line x1="459.3" y1="134.8" x2="606.8" y2="135.1" stroke="#F8766D" stroke-width="2.4"/>
<line x1="459.8" y1="139.5" x2="534.9" y2="123.4" stroke="#F6CC4E" stroke-width="2.4"/>
<line x1="448.8" y1="167" x2="488.7" y2="164.2" stroke="#0CBE78" stroke-width="2.4"/>
<line x1="452.9" y1="160.5" x2="522.0" y2="139.6" stroke="#08B0F4" stroke-width="2.4"/>
<line x1="449.2" y1="118.3" x2="673.4" y2="210.7" stroke="#CB3873" stroke-width="2.4"/>
<line x1="263.7" x2="509.4" y1="471.1" y2="471.1" stroke="#ededed" stroke-width="0.9"/>
<line x1="263.7" x2="509.4" y1="542.0" y2="542.0" stroke="#ededed" stroke-width="0.9"/>
<line x1="263.7" x2="509.4" y1="612.9" y2="612.9" stroke="#ededed" stroke-width="0.9"/>
<line x1="263.7" x2="509.4" y1="683.8" y2="683.8" stroke="#ededed" stroke-width="0.9"/>
<line y1="421.7" y2="733.0" x1="271.8" x2="271.8" stroke="#ededed" stroke-width="0.9"/>
<line y1="421.7" y2="733.0" x1="366.6" x2="366.6" stroke="#ededed" stroke-width="0.9"/>
<line y1="421.7" y2="733.0" x1="461.3" x2="461.3" stroke="#ededed" stroke-width="0.9"/>
<line x1="263.7" x2="509.4" y1="435.6" y2="435.6" stroke="#ededed" stroke-width="0.9"/>
<line x1="263.7" x2="509.4" y1="506.5" y2="506.5" stroke="#ededed" stroke-width="0.9"/>
<line x1="263.7" x2="509.4" y1="577.4" y2="577.4" stroke="#ededed" stroke-width="0.9"/>
<line x1="263.7" x2="509.4" y1="648.4" y2="648.4" stroke="#ededed" stroke-width="0.9"/>
<line x1="263.7" x2="509.4" y1="719.3" y2="719.3" stroke="#ededed" stroke-width="0.9"/>
<line y1="421.7" y2="733.0" x1="319.2" x2="319.2" stroke="#ededed" stroke-width="0.9"/>
<line y1="421.7" y2="733.0" x1="413.9" x2="413.9" stroke="#ededed" stroke-width="0.9"/>
<line y1="421.7" y2="733.0" x1="508.7" x2="508.7" stroke="#ededed" stroke-width="0.9"/>
<text x="260.6" y="439.8" font-size="10.6" text-anchor="end" fill="#4d4d4d" stroke="#4d4d4d" stroke-width="0.2">1.00</text>
<text x="260.6" y="510.7" font-size="10.6" text-anchor="end" fill="#4d4d4d" stroke="#4d4d4d" stroke-width="0.2">0.75</text>
<text x="260.6" y="581.6" font-size="10.6" text-anchor="end" fill="#4d4d4d" stroke="#4d4d4d" stroke-width="0.2">0.50</text>
<text x="260.6" y="652.6" font-size="10.6" text-anchor="end" fill="#4d4d4d" stroke="#4d4d4d" stroke-width="0.2">0.25</text>
<text x="260.6" y="723.5" font-size="10.6" text-anchor="end" fill="#4d4d4d" stroke="#4d4d4d" stroke-width="0.2">0.00</text>
<text x="319.2" y="744.8" font-size="10.6" text-anchor="middle" fill="#4d4d4d" stroke="#4d4d4d" stroke-width="0.2">0.1</text>
<text x="413.9" y="744.8" font-size="10.6" text-anchor="middle" fill="#4d4d4d" stroke="#4d4d4d" stroke-width="0.2">0.2</text>
<text x="508.7" y="744.8" font-size="10.6" text-anchor="middle" fill="#4d4d4d" stroke="#4d4d4d" stroke-width="0.2">0.3</text>
<text transform="translate(210.7,579.3) rotate(-90)" font-size="13.3" font-weight="bold" text-anchor="middle" fill="#000" stroke="#000" stroke-width="0.25">Overall correctness</text>
<text x="393.2" y="760" font-size="13.3" font-weight="bold" text-anchor="middle" fill="#000" stroke="#000" stroke-width="0.25">Engagement</text>
<circle cx="346.5" cy="454.6" r="1.6" fill="#00BF7D"/>
<circle cx="346.4" cy="459.2" r="1.6" fill="#00B0F6"/>
<circle cx="326.9" cy="459.2" r="1.6" fill="#00B0F6"/>
<circle cx="340.2" cy="473.6" r="1.6" fill="#00BF7D"/>
<circle cx="344.2" cy="473.6" r="1.6" fill="#00BF7D"/>
<circle cx="322.2" cy="483.0" r="1.6" fill="#00B0F6"/>
<circle cx="334.6" cy="483.0" r="1.6" fill="#00BF7D"/>
<circle cx="338.5" cy="483.0" r="1.6" fill="#00BF7D"/>
<circle cx="346.9" cy="483.0" r="1.6" fill="#00B0F6"/>
<circle cx="350.4" cy="483.1" r="1.6" fill="#00BF7D"/>
<circle cx="352.6" cy="483.1" r="1.6" fill="#00B0F6"/>
<circle cx="350.9" cy="494.7" r="1.6" fill="#00B0F6"/>
<circle cx="306.4" cy="496.8" r="1.6" fill="#00BF7D"/>
<circle cx="305.5" cy="498.7" r="1.6" fill="#00BF7D"/>
<circle cx="320.5" cy="497.1" r="1.6" fill="#00B0F6"/>
<circle cx="339.2" cy="498.7" r="1.6" fill="#00BF7D"/>
<circle cx="312.3" cy="500.9" r="1.6" fill="#00B0F6"/>
<circle cx="329.1" cy="503.1" r="1.6" fill="#00B0F6"/>
<circle cx="295.4" cy="506.6" r="1.6" fill="#00B0F6"/>
<circle cx="335.3" cy="508.3" r="1.6" fill="#00BF7D"/>
<circle cx="314.9" cy="511.2" r="1.6" fill="#00B0F6"/>
<circle cx="322.6" cy="511.2" r="1.6" fill="#00B0F6"/>
<circle cx="339.1" cy="511.0" r="1.6" fill="#00BF7D"/>
<circle cx="331.3" cy="513.6" r="1.6" fill="#00BF7D"/>
<circle cx="323.5" cy="520.7" r="1.6" fill="#00B0F6"/>
<circle cx="340.1" cy="520.7" r="1.6" fill="#00B0F6"/>
<circle cx="348.5" cy="523.6" r="1.6" fill="#00BF7D"/>
<circle cx="377.8" cy="435.8" r="1.6" fill="#00BF7D"/>
<circle cx="376.7" cy="473.7" r="1.6" fill="#00B0F6"/>
<circle cx="367.9" cy="494.7" r="1.6" fill="#00BF7D"/>
<circle cx="364.7" cy="498.7" r="1.6" fill="#00BF7D"/>
<circle cx="356.6" cy="513.3" r="1.6" fill="#00B0F6"/>
<circle cx="283.4" cy="527.4" r="1.6" fill="#00B0F6"/>
<circle cx="301.2" cy="527.4" r="1.6" fill="#00BF7D"/>
<circle cx="304.5" cy="527.4" r="1.6" fill="#00BF7D"/>
<circle cx="304.2" cy="530.3" r="1.6" fill="#00B0F6"/>
<circle cx="321.5" cy="530.2" r="1.6" fill="#00B0F6"/>
<circle cx="284.4" cy="535.0" r="1.6" fill="#00BF7D"/>
<circle cx="340.4" cy="537.1" r="1.6" fill="#00B0F6"/>
<circle cx="304.2" cy="544.4" r="1.6" fill="#00BF7D"/>
<circle cx="333.4" cy="544.4" r="1.6" fill="#00B0F6"/>
<circle cx="335.3" cy="545.9" r="1.6" fill="#00B0F6"/>
<circle cx="339.7" cy="545.9" r="1.6" fill="#00B0F6"/>
<circle cx="310.1" cy="548.8" r="1.6" fill="#00BF7D"/>
<circle cx="309.5" cy="551.3" r="1.6" fill="#00B0F6"/>
<circle cx="337.4" cy="551.1" r="1.6" fill="#00B0F6"/>
<circle cx="309.5" cy="554.1" r="1.6" fill="#00BF7D"/>
<circle cx="322.4" cy="553.9" r="1.6" fill="#00BF7D"/>
<circle cx="324.0" cy="553.9" r="1.6" fill="#00BF7D"/>
<circle cx="309.3" cy="558.5" r="1.6" fill="#00BF7D"/>
<circle cx="285.1" cy="560.5" r="1.6" fill="#00B0F6"/>
<circle cx="334.7" cy="561.4" r="1.6" fill="#00BF7D"/>
<circle cx="341.9" cy="560.9" r="1.6" fill="#00BF7D"/>
<circle cx="323.5" cy="565.2" r="1.6" fill="#00B0F6"/>
<circle cx="316.6" cy="568.0" r="1.6" fill="#00B0F6"/>
<circle cx="313.8" cy="570.2" r="1.6" fill="#00BF7D"/>
<circle cx="281.1" cy="575.9" r="1.6" fill="#00BF7D"/>
<circle cx="328.3" cy="575.9" r="1.6" fill="#00BF7D"/>
<circle cx="307.5" cy="583.5" r="1.6" fill="#00B0F6"/>
<circle cx="279.9" cy="590.5" r="1.6" fill="#00BF7D"/>
<circle cx="309.5" cy="600.0" r="1.6" fill="#00B0F6"/>
<circle cx="334.6" cy="601.0" r="1.6" fill="#00BF7D"/>
<circle cx="303.5" cy="604.3" r="1.6" fill="#00BF7D"/>
<circle cx="293.4" cy="605.6" r="1.6" fill="#00BF7D"/>
<circle cx="279.5" cy="629.5" r="1.6" fill="#00BF7D"/>
<circle cx="274.7" cy="635.7" r="1.6" fill="#00BF7D"/>
<circle cx="298.6" cy="653.2" r="1.6" fill="#00BF7D"/>
<circle cx="364.6" cy="589.1" r="1.6" fill="#A3A500"/>
<circle cx="367.7" cy="525.5" r="1.6" fill="#00BF7D"/>
<circle cx="381.5" cy="546.1" r="1.6" fill="#A3A500"/>
<circle cx="439.4" cy="435.9" r="1.6" fill="#F8766D"/>
<circle cx="441.6" cy="454.5" r="1.6" fill="#A3A500"/>
<circle cx="426.8" cy="459.4" r="1.6" fill="#A3A500"/>
<circle cx="432.0" cy="459.3" r="1.6" fill="#F8766D"/>
<circle cx="415.5" cy="473.6" r="1.6" fill="#F8766D"/>
<circle cx="431.0" cy="474.4" r="1.6" fill="#A3A500"/>
<circle cx="432.4" cy="473.6" r="1.6" fill="#F8766D"/>
<circle cx="435.5" cy="473.6" r="1.6" fill="#A3A500"/>
<circle cx="422.1" cy="483.0" r="1.6" fill="#F8766D"/>
<circle cx="425.9" cy="483.0" r="1.6" fill="#A3A500"/>
<circle cx="428.5" cy="483.0" r="1.6" fill="#F8766D"/>
<circle cx="434.7" cy="481.0" r="1.6" fill="#F8766D"/>
<circle cx="433.5" cy="485.4" r="1.6" fill="#A3A500"/>
<circle cx="425.3" cy="486.9" r="1.6" fill="#A3A500"/>
<circle cx="418.7" cy="489.8" r="1.6" fill="#A3A500"/>
<circle cx="415.4" cy="493.7" r="1.6" fill="#F8766D"/>
<circle cx="447.4" cy="435.9" r="1.6" fill="#F8766D"/>
<circle cx="483.1" cy="459.4" r="1.6" fill="#F8766D"/>
<circle cx="445.2" cy="473.6" r="1.6" fill="#A3A500"/>
<circle cx="457.3" cy="483.0" r="1.6" fill="#A3A500"/>
<circle cx="411.1" cy="498.8" r="1.6" fill="#F8766D"/>
<circle cx="414.8" cy="498.8" r="1.6" fill="#F8766D"/>
<circle cx="431.7" cy="496.5" r="1.6" fill="#A3A500"/>
<circle cx="403.4" cy="504.6" r="1.6" fill="#F8766D"/>
<circle cx="404.6" cy="506.7" r="1.6" fill="#A3A500"/>
<circle cx="410.0" cy="506.6" r="1.6" fill="#A3A500"/>
<circle cx="411.1" cy="506.6" r="1.6" fill="#A3A500"/>
<circle cx="438.6" cy="506.6" r="1.6" fill="#A3A500"/>
<circle cx="442.1" cy="506.6" r="1.6" fill="#A3A500"/>
<circle cx="428.7" cy="509.3" r="1.6" fill="#A3A500"/>
<circle cx="430.9" cy="509.5" r="1.6" fill="#A3A500"/>
<circle cx="419.7" cy="511.6" r="1.6" fill="#A3A500"/>
<circle cx="408.8" cy="514.0" r="1.6" fill="#A3A500"/>
<circle cx="431.6" cy="513.4" r="1.6" fill="#F8766D"/>
<circle cx="441.4" cy="513.4" r="1.6" fill="#F8766D"/>
<circle cx="415.5" cy="520.7" r="1.6" fill="#A3A500"/>
<circle cx="419.3" cy="520.9" r="1.6" fill="#F8766D"/>
<circle cx="420.8" cy="521.0" r="1.6" fill="#F8766D"/>
<circle cx="424.3" cy="530.3" r="1.6" fill="#F8766D"/>
<circle cx="399.4" cy="538.2" r="1.6" fill="#F8766D"/>
<circle cx="425.3" cy="536.8" r="1.6" fill="#F8766D"/>
<circle cx="438.9" cy="536.9" r="1.6" fill="#F8766D"/>
<circle cx="422.4" cy="541.9" r="1.6" fill="#A3A500"/>
<circle cx="419.9" cy="544.4" r="1.6" fill="#F8766D"/>
<circle cx="388.2" cy="552.2" r="1.6" fill="#A3A500"/>
<circle cx="413.3" cy="552.6" r="1.6" fill="#F8766D"/>
<circle cx="460.4" cy="501.8" r="1.6" fill="#A3A500"/>
<circle cx="458.9" cy="536.9" r="1.6" fill="#F8766D"/>
<circle cx="467.2" cy="536.9" r="1.6" fill="#F8766D"/>
<circle cx="406.5" cy="558.5" r="1.6" fill="#F8766D"/>
<circle cx="459.4" cy="569.5" r="1.6" fill="#F8766D"/>
<circle cx="433.9" cy="459.3" r="1.3" fill="#D03A75"/>
<circle cx="424.9" cy="473.6" r="1.3" fill="#D03A75"/>
<circle cx="439.8" cy="473.6" r="1.3" fill="#D03A75"/>
<circle cx="442.9" cy="477.1" r="1.3" fill="#D03A75"/>
<circle cx="404.2" cy="483.0" r="1.3" fill="#D03A75"/>
<circle cx="423.4" cy="483.0" r="1.3" fill="#D03A75"/>
<circle cx="424.7" cy="483.0" r="1.3" fill="#D03A75"/>
<circle cx="430.2" cy="483.0" r="1.3" fill="#D03A75"/>
<circle cx="436.3" cy="483.0" r="1.3" fill="#D03A75"/>
<circle cx="436.6" cy="490.2" r="1.3" fill="#D03A75"/>
<circle cx="482.5" cy="435.9" r="1.3" fill="#D03A75"/>
<circle cx="449.4" cy="459.4" r="1.3" fill="#D03A75"/>
<circle cx="464.0" cy="459.4" r="1.3" fill="#D03A75"/>
<circle cx="497.6" cy="459.4" r="1.3" fill="#D03A75"/>
<circle cx="447.8" cy="473.6" r="1.3" fill="#D03A75"/>
<circle cx="466.2" cy="473.6" r="1.3" fill="#D03A75"/>
<circle cx="484.0" cy="483.0" r="1.3" fill="#D03A75"/>
<circle cx="472.8" cy="493.7" r="1.3" fill="#D03A75"/>
<circle cx="421.0" cy="498.8" r="1.3" fill="#D03A75"/>
<circle cx="433.2" cy="495.0" r="1.3" fill="#D03A75"/>
<circle cx="403.4" cy="506.6" r="1.3" fill="#D03A75"/>
<circle cx="413.8" cy="506.6" r="1.3" fill="#D03A75"/>
<circle cx="437.0" cy="511.4" r="1.3" fill="#D03A75"/>
<circle cx="435.1" cy="518.0" r="1.3" fill="#D03A75"/>
<circle cx="398.0" cy="520.9" r="1.3" fill="#D03A75"/>
<circle cx="429.6" cy="520.7" r="1.3" fill="#D03A75"/>
<circle cx="394.1" cy="543.5" r="1.3" fill="#D03A75"/>
<circle cx="397.6" cy="545.9" r="1.3" fill="#D03A75"/>
<circle cx="472.8" cy="494.8" r="1.3" fill="#D03A75"/>
<circle cx="454.4" cy="506.6" r="1.3" fill="#D03A75"/>
<circle cx="476.8" cy="506.7" r="1.3" fill="#D03A75"/>
<circle cx="385.9" cy="560.3" r="1.3" fill="#D03A75"/>
<circle cx="388.9" cy="565.3" r="1.3" fill="#D03A75"/>
<circle cx="392.9" cy="574.5" r="1.3" fill="#D03A75"/>
<circle cx="385.9" cy="577.5" r="1.3" fill="#D03A75"/>
<line x1="399.6" y1="521.6" x2="483.3" y2="470.9" stroke="#F8766D" stroke-width="2.4"/>
<line x1="365.1" y1="562.0" x2="460.3" y2="463.6" stroke="#F6CC4E" stroke-width="2.4"/>
<line x1="274.8" y1="586.7" x2="377.3" y2="470.0" stroke="#0CBE78" stroke-width="2.4"/>
<line x1="283.7" y1="554.0" x2="376.1" y2="484.2" stroke="#08B0F4" stroke-width="2.4"/>
<line x1="386.5" y1="538.0" x2="498.1" y2="440.7" stroke="#CB3873" stroke-width="2.4"/>
</svg>
</body></html>
